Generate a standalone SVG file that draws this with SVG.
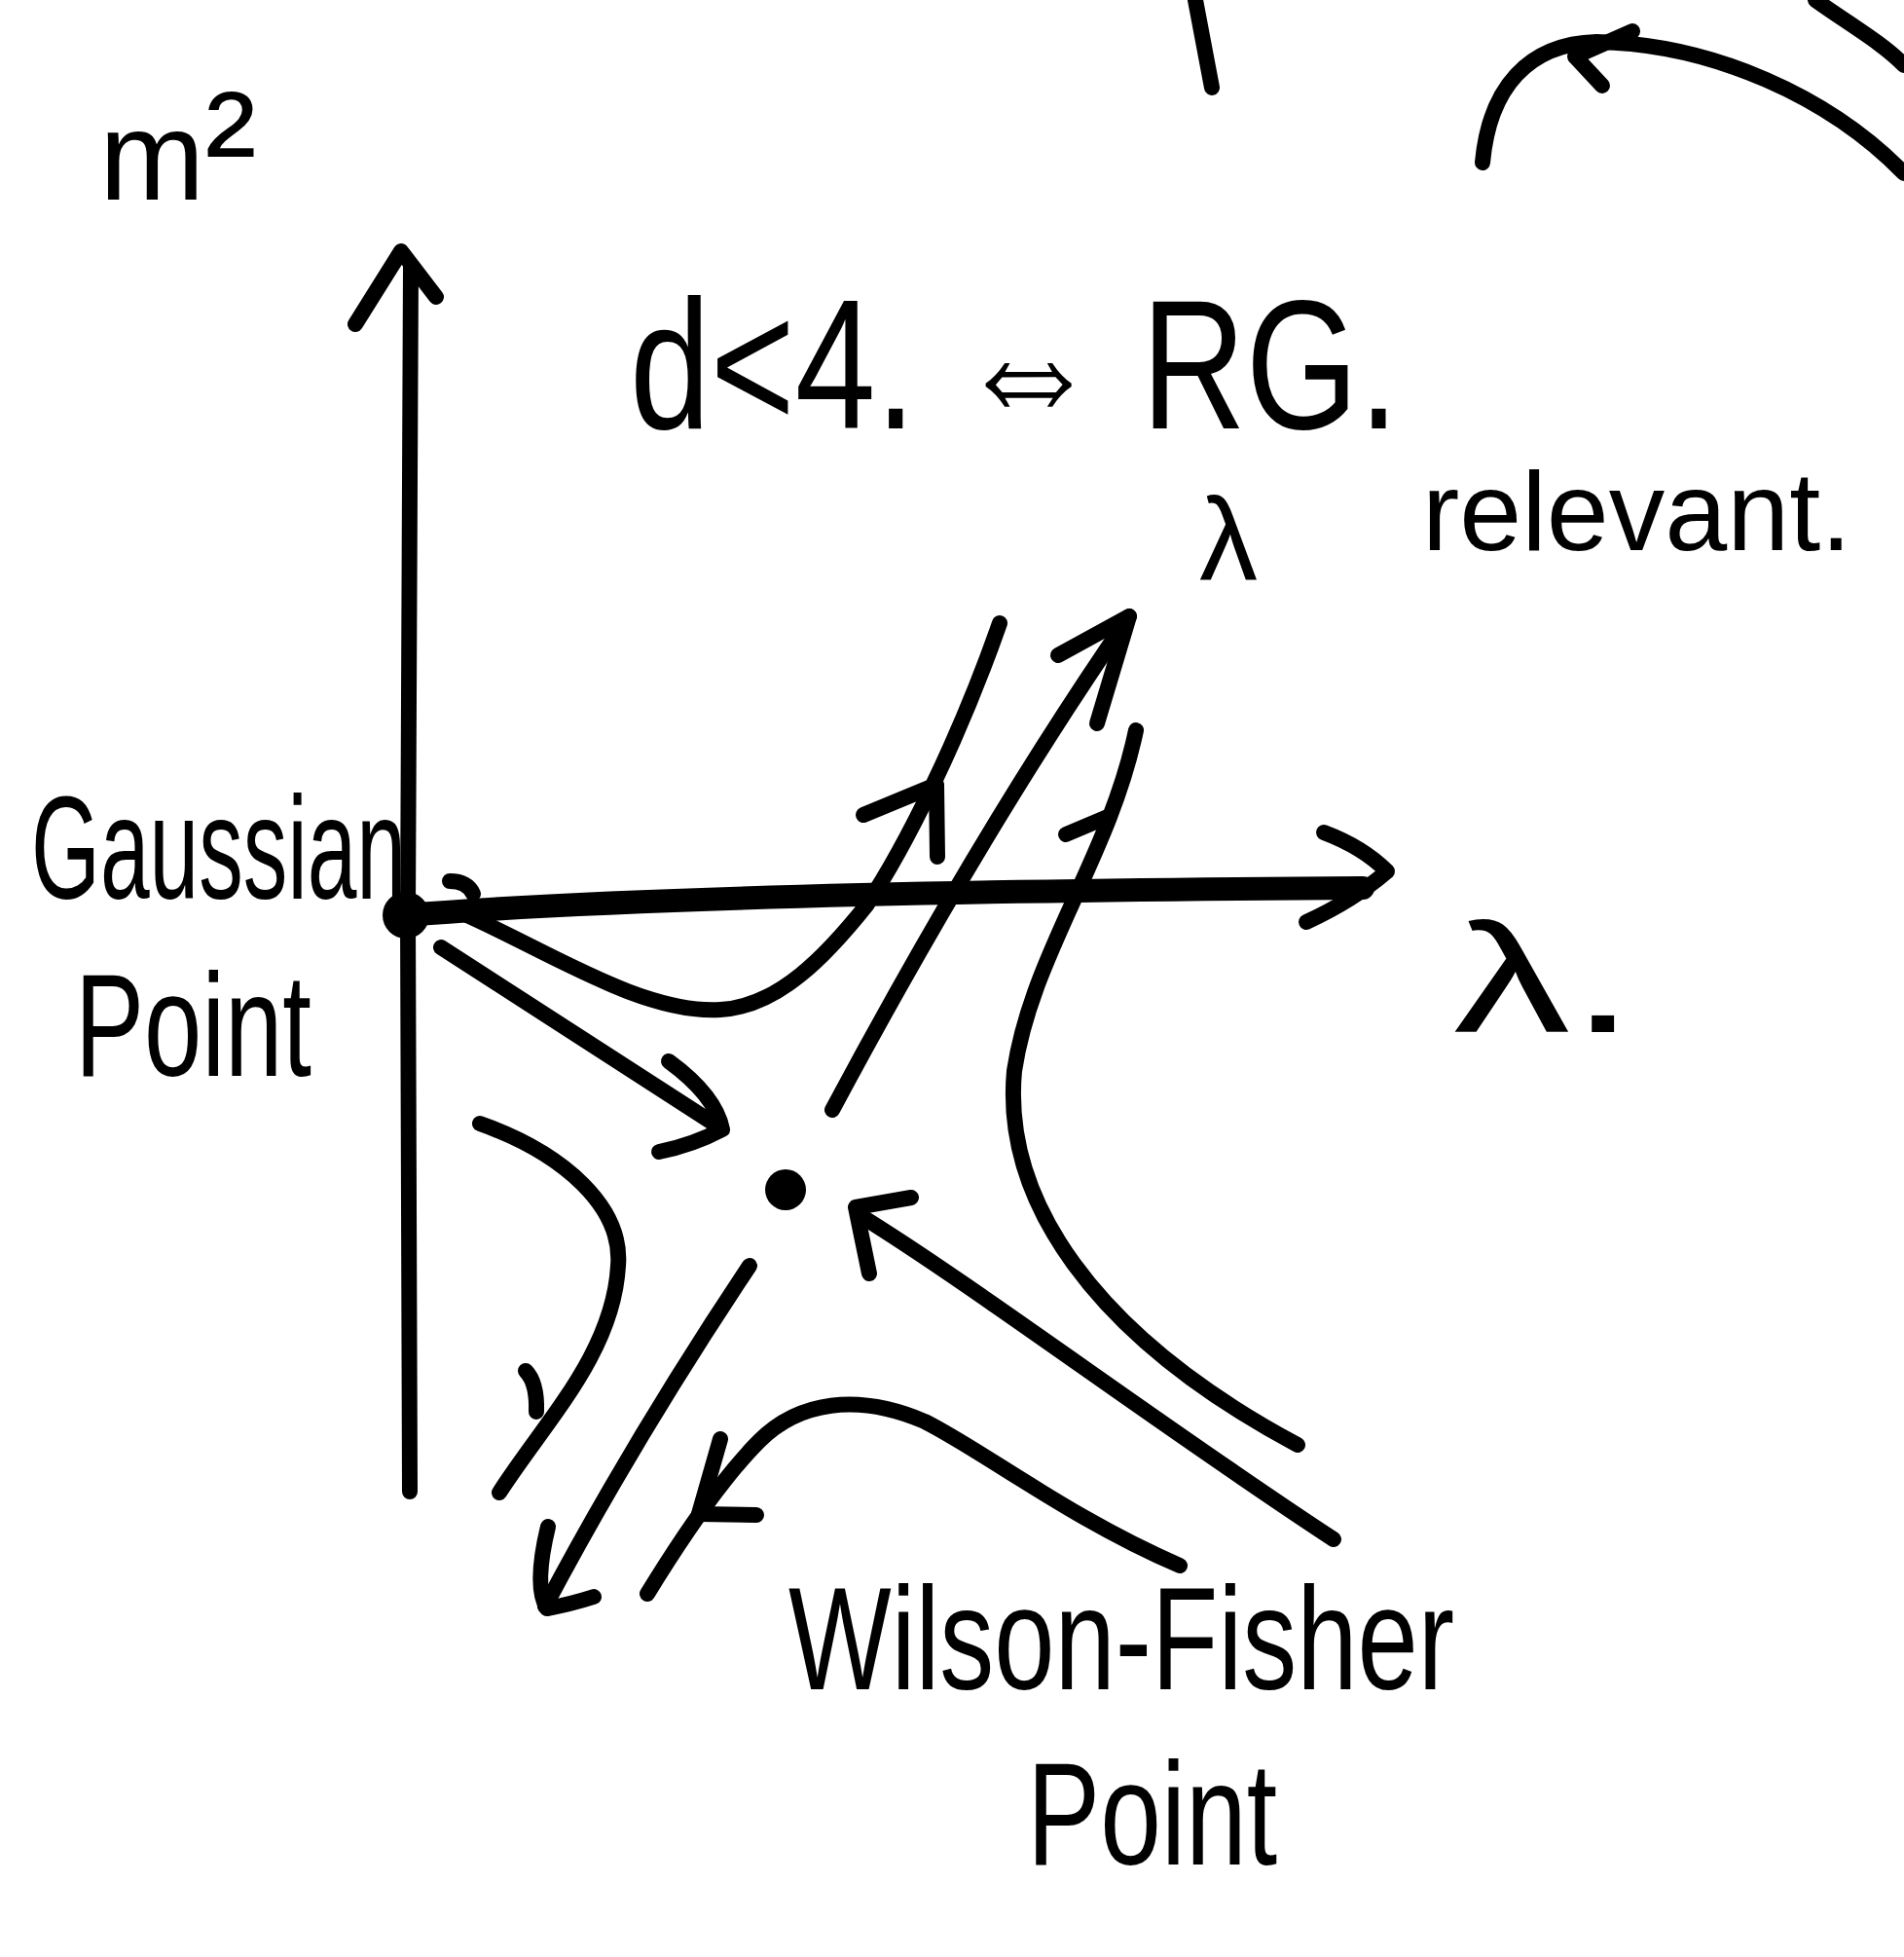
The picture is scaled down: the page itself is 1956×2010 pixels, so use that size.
<svg xmlns="http://www.w3.org/2000/svg" width="1956" height="2010" viewBox="0 0 1956 2010">
<style>
.s{fill:none;stroke:#000;stroke-width:16;stroke-linecap:round;stroke-linejoin:round}
.ax{stroke-width:24}
.t{fill:#000;font-family:"Liberation Sans","DejaVu Sans",sans-serif}
</style>
<rect width="1956" height="2010" fill="#fff"/>
<g id="top-fragments">
<path class="s" d="M1228,0 L1245,90"/>
<path class="s" d="M1523,167 C1530,90 1570,45 1640,43 C1760,45 1880,100 1956,178" stroke-width="18"/>
<path class="s" d="M1677,32 L1618,58 L1646,88" stroke-width="18"/>
<path class="s" d="M1865,0 C1900,25 1935,45 1956,67"/>
</g>
<g id="axes">
<path class="s" d="M422,272 L419,940 L421,1532" stroke-width="16"/>
<path class="s" d="M365,333 L412,258 L448,305" stroke-width="16"/>
<path class="s ax" d="M417,940 C600,925 900,915 1400,912"/>
<path class="s" d="M1360,855 Q1400,870 1425,895 Q1390,925 1342,947" stroke-width="17"/>
<text class="t" x="102" y="205" font-size="130">m<tspan font-size="160" dx="0">²</tspan></text>
<text class="t" x="1493" y="1060" font-size="160" textLength="187" lengthAdjust="spacingAndGlyphs">λ.</text>
</g>
<g id="heading">
<text class="t" x="647" y="440" font-size="190" textLength="790" lengthAdjust="spacingAndGlyphs">d&lt;4. ⇔ RG.</text>
<text class="t" x="1232" y="596" font-size="120">λ <tspan x="1461" y="565" font-size="115">relevant.</tspan></text>
</g>
<g id="gaussian-point">
<circle cx="417" cy="940" r="24" fill="#000"/>
<path class="s" d="M462,905 Q480,905 486,918" stroke-width="13"/>
<text class="t" x="32" y="923" font-size="150" textLength="385" lengthAdjust="spacingAndGlyphs">Gaussian</text>
<text class="t" x="77" y="1105" font-size="150" textLength="243" lengthAdjust="spacingAndGlyphs">Point</text>
</g>
<g id="wilson-fisher-point">
<circle cx="807" cy="1222" r="21" fill="#000"/>
<text class="t" x="810" y="1735" font-size="150" textLength="684" lengthAdjust="spacingAndGlyphs">Wilson-Fisher</text>
<text class="t" x="1055" y="1915" font-size="150" textLength="257" lengthAdjust="spacingAndGlyphs">Point</text>
</g>
<g id="connectors">
<path class="s" d="M475,938 C560,975 660,1042 740,1037 C800,1034 850,980 890,930 C930,870 985,760 1027,640"/>
<path class="s" d="M887,837 L962,806 L963,880"/>
<path class="s" d="M855,1140 Q1010,850 1160,633"/>
<path class="s" d="M1087,673 L1160,633 L1127,743"/>
<path class="s" d="M1167,750 C1140,880 1060,980 1042,1100 C1030,1230 1120,1370 1333,1484"/>
<path class="s" d="M1095,857 L1140,838"/>
<path class="s" d="M453,973 L738,1157"/>
<path class="s" d="M687,1090 Q735,1125 742,1160 Q712,1176 677,1183"/>
<path class="s" d="M1370,1581 C1200,1470 1000,1320 883,1248" stroke-width="18"/>
<path class="s" d="M936,1230 L879,1240 L893,1308" stroke-width="18"/>
<path class="s" d="M493,1154 C580,1185 640,1240 635,1300 C630,1390 560,1460 513,1533"/>
<path class="s" d="M540,1408 Q552,1420 551,1450"/>
<path class="s" d="M770,1300 Q650,1480 560,1650"/>
<path class="s" d="M563,1568 Q548,1630 562,1652 Q585,1648 610,1640"/>
<path class="s" d="M1212,1608 C1100,1560 1010,1490 950,1460 C880,1430 820,1440 780,1480 C740,1520 700,1580 665,1637"/>
<path class="s" d="M740,1478 L718,1555 L777,1556"/>
</g>
</svg>
